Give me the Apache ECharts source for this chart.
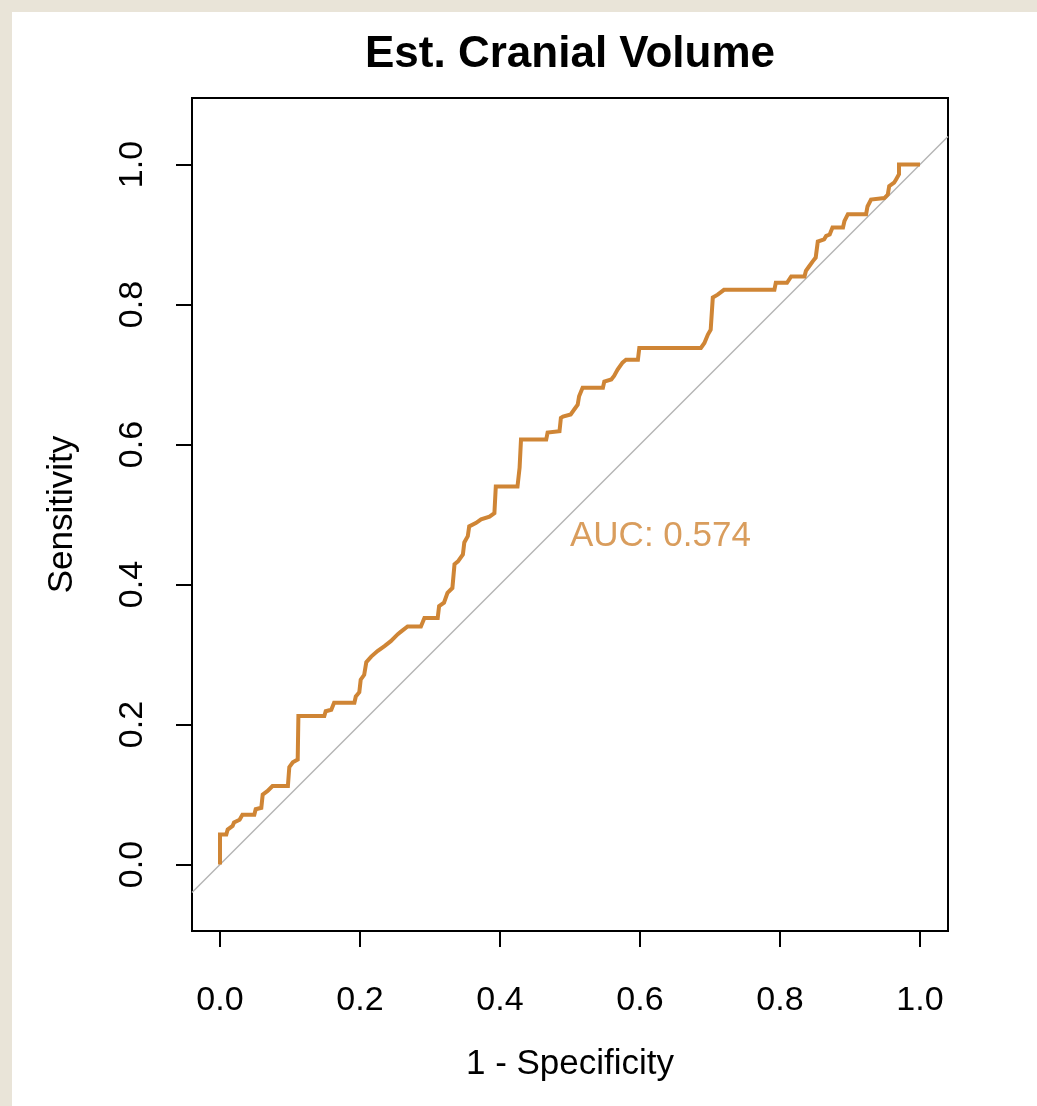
<!DOCTYPE html>
<html>
<head>
<meta charset="utf-8">
<title>Est. Cranial Volume</title>
<script src="https://cdn.jsdelivr.net/npm/echarts@6/dist/echarts.min.js"></script>
<style>
  html, body { margin: 0; padding: 0; width: 1037px; height: 1106px; background: #e9e4d8; overflow: hidden; }
  #chart { position: absolute; left: 12px; top: 12px; width: 1025px; height: 1094px; background: #fff; }
</style>
</head>
<body>
<div id="chart"></div>
<script>
// ROC curve - Est. Cranial Volume (1 - specificity vs sensitivity)
const fpr = [
  0, 0, 0.009, 0.011, 0.018, 0.02, 0.028, 0.032, 0.049, 0.051, 0.059, 0.061, 0.068, 0.075,
  0.097, 0.099, 0.104, 0.111, 0.112, 0.149, 0.151, 0.159, 0.163, 0.192, 0.194, 0.199, 0.201,
  0.206, 0.209, 0.216, 0.225, 0.235, 0.244, 0.254, 0.259, 0.268, 0.287, 0.292, 0.311, 0.313,
  0.32, 0.325, 0.332, 0.335, 0.34, 0.347, 0.349, 0.354, 0.356, 0.366, 0.373, 0.385, 0.392,
  0.394, 0.425, 0.428, 0.43, 0.466, 0.468, 0.485, 0.487, 0.49, 0.501, 0.506, 0.511, 0.513,
  0.518, 0.547, 0.549, 0.559, 0.563, 0.568, 0.575, 0.58, 0.597, 0.599, 0.687, 0.692, 0.697,
  0.701, 0.704, 0.711, 0.72, 0.792, 0.794, 0.81, 0.816, 0.835, 0.837, 0.842, 0.847, 0.851,
  0.854, 0.863, 0.866, 0.871, 0.875, 0.89, 0.892, 0.897, 0.923, 0.925, 0.93, 0.932, 0.949,
  0.954, 0.956, 0.963, 0.966, 0.97, 0.97, 1.0
];
const tpr = [
  0, 0.043, 0.043, 0.05, 0.055, 0.06, 0.064, 0.071, 0.071, 0.079, 0.081, 0.1, 0.105, 0.112,
  0.112, 0.139, 0.146, 0.15, 0.212, 0.212, 0.219, 0.221, 0.231, 0.231, 0.24, 0.246, 0.264,
  0.271, 0.289, 0.297, 0.305, 0.312, 0.319, 0.329, 0.333, 0.34, 0.34, 0.352, 0.352, 0.369,
  0.374, 0.388, 0.395, 0.429, 0.433, 0.443, 0.46, 0.469, 0.483, 0.488, 0.493, 0.497, 0.502,
  0.54, 0.54, 0.567, 0.607, 0.607, 0.617, 0.619, 0.638, 0.64, 0.643, 0.65, 0.657, 0.669,
  0.681, 0.681, 0.69, 0.693, 0.698, 0.707, 0.717, 0.721, 0.721, 0.738, 0.738, 0.745, 0.757,
  0.764, 0.81, 0.814, 0.821, 0.821, 0.831, 0.831, 0.84, 0.84, 0.848, 0.855, 0.862, 0.867,
  0.89, 0.893, 0.898, 0.9, 0.91, 0.91, 0.919, 0.929, 0.929, 0.94, 0.95, 0.952, 0.952,
  0.957, 0.969, 0.974, 0.979, 0.986, 1.0, 1.0
];
const xTicks = [0, 0.2, 0.4, 0.6, 0.8, 1.0];
const yTicks = [0, 0.2, 0.4, 0.6, 0.8, 1.0];
const aucValue = 0.574;

const chart = echarts.init(document.getElementById('chart'));

const font = 'Liberation Sans, Arial, sans-serif';
const rocColor = '#cf8535';

const option = {
  animation: false,
  backgroundColor: '#fff',
  graphic: [
    {
      type: 'text',
      x: 558,
      y: 43,
      style: {
        text: 'Est. Cranial Volume',
        font: 'bold 44px ' + font,
        fill: '#000',
        textAlign: 'center',
        textVerticalAlign: 'middle'
      }
    }
  ],
  grid: {
    left: 180,
    top: 86,
    width: 756,
    height: 833,
    show: true,
    borderColor: '#000',
    borderWidth: 2,
    backgroundColor: 'transparent'
  },
  xAxis: {
    type: 'value',
    min: -0.04,
    max: 1.04,
    name: '1 - Specificity',
    nameLocation: 'middle',
    nameGap: 116,
    nameTextStyle: { fontFamily: font, fontSize: 35, color: '#000' },
    axisLine: { show: false, onZero: false },
    splitLine: { show: false },
    axisTick: {
      show: true,
      customValues: xTicks,
      length: 16,
      lineStyle: { color: '#000', width: 2 }
    },
    axisLabel: {
      customValues: xTicks,
      formatter: (v) => v.toFixed(1),
      fontFamily: font,
      fontSize: 34,
      color: '#000',
      margin: 53
    }
  },
  yAxis: {
    type: 'value',
    min: -0.095,
    max: 1.095,
    name: 'Sensitivity',
    nameLocation: 'middle',
    nameRotate: 90,
    nameGap: 112,
    nameTextStyle: { fontFamily: font, fontSize: 35, color: '#000' },
    axisLine: { show: false, onZero: false },
    splitLine: { show: false },
    axisTick: {
      show: true,
      customValues: yTicks,
      length: 16,
      lineStyle: { color: '#000', width: 2 }
    },
    axisLabel: {
      customValues: yTicks,
      formatter: (v) => v.toFixed(1),
      rotate: 90,
      fontFamily: font,
      fontSize: 34,
      color: '#000',
      margin: 42
    }
  },
  series: [
    // chance diagonal (abline 0,1) across the x range
    {
      type: 'line',
      data: [[-0.04, -0.04], [1.04, 1.04]],
      showSymbol: false,
      silent: true,
      lineStyle: { color: '#b4b4b4', width: 1.5 },
      z: 1
    },
    // ROC curve
    {
      type: 'line',
      data: fpr.map((x, i) => [x, tpr[i]]),
      showSymbol: false,
      smooth: false,
      lineStyle: { color: rocColor, width: 4, join: 'miter' },
      z: 2
    },
    // AUC label
    {
      type: 'scatter',
      data: [[0.5, 0.469]],
      symbolSize: 0,
      silent: true,
      label: {
        show: true,
        position: 'right',
        distance: 0,
        formatter: 'AUC: ' + aucValue.toFixed(3),
        fontFamily: font,
        fontSize: 35,
        color: rocColor
      },
      z: 3
    }
  ]
};

chart.setOption(option);
</script>
</body>
</html>
